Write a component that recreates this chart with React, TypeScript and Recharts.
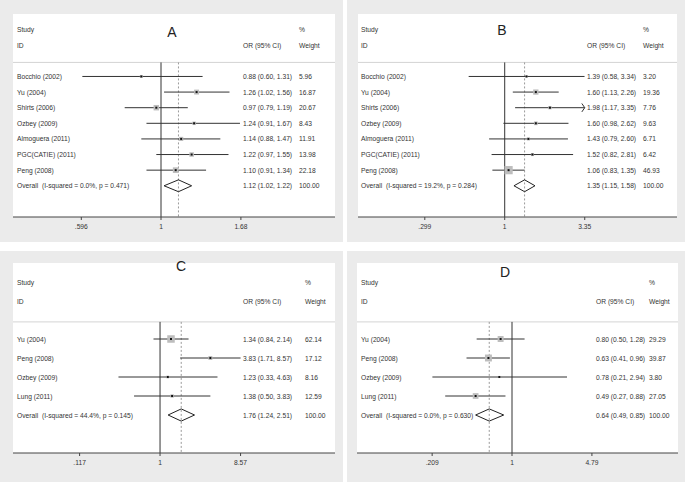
import React from 'react';
import { ScatterChart, Scatter, XAxis, YAxis, ReferenceLine } from 'recharts';

const FONT = '"Liberation Sans", Arial, Helvetica, sans-serif';

// Panel A
const studiesA = ['Bocchio (2002)', 'Yu (2004)', 'Shirts (2006)', 'Ozbey (2009)', 'Almoguera (2011)', 'PGC(CATIE) (2011)', 'Peng (2008)'];
const orA = [0.88, 1.26, 0.97, 1.24, 1.14, 1.22, 1.10];
const lowA = [0.60, 1.02, 0.79, 0.91, 0.88, 0.97, 0.91];
const highA = [1.31, 1.56, 1.19, 1.67, 1.47, 1.55, 1.34];
const weightA = [5.96, 16.87, 20.67, 8.43, 11.91, 13.98, 22.18];
const overallA = [1.12, 1.02, 1.22];
const overallTextA = 'Overall  (I-squared = 0.0%, p = 0.471)';
const ticksA = [0.596, 1, 1.68];

// Panel B
const studiesB = ['Bocchio (2002)', 'Yu (2004)', 'Shirts (2006)', 'Ozbey (2009)', 'Almoguera (2011)', 'PGC(CATIE) (2011)', 'Peng (2008)'];
const orB = [1.39, 1.60, 1.98, 1.60, 1.43, 1.52, 1.06];
const lowB = [0.58, 1.13, 1.17, 0.98, 0.79, 0.82, 0.83];
const highB = [3.34, 2.26, 3.35, 2.62, 2.60, 2.81, 1.35];
const weightB = [3.20, 19.36, 7.76, 9.63, 6.71, 6.42, 46.93];
const offScaleB = [false, false, true, false, false, false, false];
const overallB = [1.35, 1.15, 1.58];
const overallTextB = 'Overall  (I-squared = 19.2%, p = 0.284)';
const ticksB = [0.299, 1, 3.35];

// Panel C
const studiesC = ['Yu (2004)', 'Peng (2008)', 'Ozbey (2009)', 'Lung (2011)'];
const orC = [1.34, 3.83, 1.23, 1.38];
const lowC = [0.84, 1.71, 0.33, 0.50];
const highC = [2.14, 8.57, 4.63, 3.83];
const weightC = [62.14, 17.12, 8.16, 12.59];
const overallC = [1.76, 1.24, 2.51];
const overallTextC = 'Overall  (I-squared = 44.4%, p = 0.145)';
const ticksC = [0.117, 1, 8.57];

// Panel D
const studiesD = ['Yu (2004)', 'Peng (2008)', 'Ozbey (2009)', 'Lung (2011)'];
const orD = [0.80, 0.63, 0.78, 0.49];
const lowD = [0.50, 0.41, 0.21, 0.27];
const highD = [1.28, 0.96, 2.94, 0.88];
const weightD = [29.29, 39.87, 3.80, 27.05];
const overallD = [0.64, 0.49, 0.85];
const overallTextD = 'Overall  (I-squared = 0.0%, p = 0.630)';
const ticksD = [0.209, 1, 4.79];

const fmtTick = (v: number) => (v < 1 ? String(v).replace(/^0/, '') : String(v));
const fmtCI = (o: number, l: number, h: number) => `${o.toFixed(2)} (${l.toFixed(2)}, ${h.toFixed(2)})`;

const txt = { fontSize: 6.7, fill: '#333', fontFamily: FONT };

const Panel = (p: any) => {
  const n = p.studies.length;
  const rows = p.studies.map((s: string, i: number) => ({
    x: p.or[i],
    y: i + 1,
    s: p.boxK * Math.sqrt(p.weight[i]),
  }));
  const labelRows = [-2, -1, ...p.studies.map((_: string, i: number) => i + 1), n + 1].map((v) => ({ x: 1, y: v }));
  const [ov, ovLo, ovHi] = p.overall;
  const top = 0.1;
  const bottom = n + 3;

  // one row of table text, placed at the row's y from the scale
  const RowText = (t: any) => {
    const v = t.payload.y;
    const y = t.cy;
    let cells: [number, string][] = [];
    if (v === -2) cells = [[p.nameX, 'Study'], [p.wX, '%']];
    else if (v === -1) cells = [[p.nameX, 'ID'], [p.orX, 'OR (95% CI)'], [p.wX, 'Weight']];
    else if (v === n + 1) cells = [[p.nameX, p.overallText], [p.orX, fmtCI(ov, ovLo, ovHi)], [p.wX, '100.00']];
    else {
      const i = v - 1;
      cells = [[p.nameX, p.studies[i]], [p.orX, fmtCI(p.or[i], p.low[i], p.high[i])], [p.wX, p.weight[i].toFixed(2)]];
    }
    return (
      <g>
        {cells.map(([x, s], k) => (
          <text key={k} x={x} y={y} dominantBaseline="central" xmlSpace="preserve" {...txt}>{s}</text>
        ))}
      </g>
    );
  };

  const Box = (b: any) => {
    const { cx, cy, payload } = b;
    const s = payload.s;
    return (
      <g>
        <rect x={cx - s / 2} y={cy - s / 2} width={s} height={s} fill="#bdbdbd" />
        <rect x={cx - 1} y={cy - 1} width={2} height={2} fill="#111" />
      </g>
    );
  };

  return (
    <div style={{ position: 'absolute', left: p.left, top: p.top, width: p.width, height: p.height, background: '#ebebeb' }}>
      <div style={{ position: 'absolute', left: p.ml, top: p.mt, width: p.width - p.ml - p.mr, height: p.height - p.mt - p.axisH, background: '#fff' }} />
      <div style={{ position: 'absolute', left: 0, top: 0 }}>
        <ScatterChart width={p.width} height={p.height} margin={{ top: p.mt, right: p.mr, left: p.ml, bottom: 0 }}>
          <XAxis
            type="number"
            dataKey="x"
            scale="log"
            domain={p.domain}
            allowDataOverflow
            ticks={p.ticks}
            interval={0}
            tickFormatter={fmtTick}
            height={p.axisH}
            tickSize={3}
            tickMargin={4}
            stroke="#444"
            tick={{ fontSize: 6.7, fill: '#333', fontFamily: FONT }}
          />
          <YAxis type="number" dataKey="y" domain={[-3, bottom]} reversed allowDataOverflow hide />
          <ReferenceLine ifOverflow="visible" segment={[{ x: p.domain[0], y: top }, { x: p.domain[1], y: top }]} stroke="#d4d4d4" />
          <ReferenceLine ifOverflow="visible" segment={[{ x: 1, y: top }, { x: 1, y: bottom }]} stroke="#333" />
          <ReferenceLine ifOverflow="visible" segment={[{ x: ov, y: top }, { x: ov, y: bottom }]} stroke="#9a9a9a" strokeDasharray="2 2" />
          {p.studies.map((_: string, i: number) => (
            <ReferenceLine key={'ci' + i} ifOverflow="visible" segment={[{ x: p.low[i], y: i + 1 }, { x: p.high[i], y: i + 1 }]} stroke="#333" />
          ))}
          {p.studies.map((_: string, i: number) =>
            p.offScale && p.offScale[i] ? (
              <ReferenceLine key={'arA' + i} ifOverflow="visible" segment={[{ x: p.high[i] / 1.045, y: i + 1 - 0.27 }, { x: p.high[i], y: i + 1 }]} stroke="#333" />
            ) : null
          )}
          {p.studies.map((_: string, i: number) =>
            p.offScale && p.offScale[i] ? (
              <ReferenceLine key={'arB' + i} ifOverflow="visible" segment={[{ x: p.high[i] / 1.045, y: i + 1 + 0.27 }, { x: p.high[i], y: i + 1 }]} stroke="#333" />
            ) : null
          )}
          <ReferenceLine ifOverflow="visible" segment={[{ x: ovLo, y: n + 1 }, { x: ov, y: n + 1 - p.diamondH }]} stroke="#222" />
          <ReferenceLine ifOverflow="visible" segment={[{ x: ov, y: n + 1 - p.diamondH }, { x: ovHi, y: n + 1 }]} stroke="#222" />
          <ReferenceLine ifOverflow="visible" segment={[{ x: ovHi, y: n + 1 }, { x: ov, y: n + 1 + p.diamondH }]} stroke="#222" />
          <ReferenceLine ifOverflow="visible" segment={[{ x: ov, y: n + 1 + p.diamondH }, { x: ovLo, y: n + 1 }]} stroke="#222" />
          <Scatter data={rows} isAnimationActive={false} shape={Box} />
          <Scatter data={labelRows} isAnimationActive={false} shape={RowText} />
        </ScatterChart>
      </div>
      <div
        style={{
          position: 'absolute',
          left: p.letterX - 10,
          top: p.letterY - 9,
          width: 20,
          height: 18,
          lineHeight: '18px',
          textAlign: 'center',
          fontSize: 14,
          fontFamily: FONT,
          color: '#222',
        }}
      >
        {p.letter}
      </div>
    </div>
  );
};

export default function App() {
  return (
    <div style={{ position: 'absolute', left: 0, top: 0, width: 689, height: 482, background: '#fff', overflow: 'hidden' }}>
      <Panel
        left={0} top={0} width={343} height={242} ml={13} mr={8} mt={14} axisH={25}
        domain={[0.3825, 3.095]} ticks={ticksA}
        studies={studiesA} or={orA} low={lowA} high={highA} weight={weightA}
        overall={overallA} overallText={overallTextA}
        letter="A" letterX={172} letterY={32}
        nameX={17} orX={243} wX={299} boxK={1.2} diamondH={0.38}
      />
      <Panel
        left={347} top={0} width={338} height={242} ml={11} mr={8} mt={14} axisH={25}
        domain={[0.109, 13.5]} ticks={ticksB}
        studies={studiesB} or={orB} low={lowB} high={highB} weight={weightB} offScale={offScaleB}
        overall={overallB} overallText={overallTextB}
        letter="B" letterX={155} letterY={30}
        nameX={14} orX={240} wX={296} boxK={1.2} diamondH={0.38}
      />
      <Panel
        left={0} top={251} width={343} height={231} ml={13} mr={8} mt={12} axisH={29}
        domain={[0.0198, 106.4]} ticks={ticksC}
        studies={studiesC} or={orC} low={lowC} high={highC} weight={weightC}
        overall={overallC} overallText={overallTextC}
        letter="C" letterX={181} letterY={15}
        nameX={17} orX={243} wX={305} boxK={0.95} diamondH={0.32}
      />
      <Panel
        left={347} top={251} width={338} height={231} ml={10} mr={7} mt={12} axisH={29}
        domain={[0.0479, 25.9]} ticks={ticksD}
        studies={studiesD} or={orD} low={lowD} high={highD} weight={weightD}
        overall={overallD} overallText={overallTextD}
        letter="D" letterX={158} letterY={21}
        nameX={14} orX={249} wX={302} boxK={1.1} diamondH={0.32}
      />
    </div>
  );
}
